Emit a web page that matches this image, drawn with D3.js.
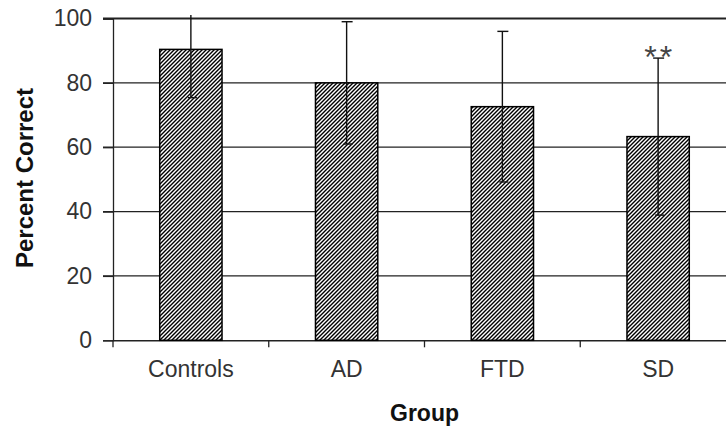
<!DOCTYPE html>
<html>
<head>
<meta charset="utf-8">
<script src="https://cdn.jsdelivr.net/npm/d3@7"></script>
<style>
  body { margin: 0; background: #fff; }
  svg { display: block; font-family: "Liberation Sans", Arial, sans-serif; }
</style>
</head>
<body>
<svg id="chart" width="726" height="434"></svg>
<script>
// values
const groups = ["Controls", "AD", "FTD", "SD"];
const means = [90.4, 80, 72.6, 63.3];
const sds = [15, 19, 23.4, 24.4];
const marks = ["", "", "", "**"];
const yTicks = [0, 20, 40, 60, 80, 100];

const svg = d3.select("#chart");
const plotLeft = 113, plotTop = 18.5, plotBottom = 340.3, plotRight = 736;

const x = d3.scaleBand().domain(groups).range([plotLeft, plotRight]).padding(0);
const y = d3.scaleLinear().domain([0, 100]).range([plotBottom, plotTop]);
const barW = x.bandwidth() * 0.4;

// hatch fill
const defs = svg.append("defs");
const pat = defs.append("pattern")
    .attr("id", "hatch")
    .attr("patternUnits", "userSpaceOnUse")
    .attr("width", 4).attr("height", 4);
pat.append("rect").attr("width", 4).attr("height", 4).attr("fill", "#fff");
pat.append("path")
    .attr("d", "M-1,1 l2,-2 M0,4 l4,-4 M3,5 l2,-2")
    .attr("stroke", "#000").attr("stroke-width", 1.4);

defs.append("clipPath").attr("id", "plotClip")
  .append("rect").attr("x", 0).attr("y", 15).attr("width", 726).attr("height", 400);

// gridlines
svg.append("g").selectAll("line")
  .data(yTicks.filter(d => d > 0))
  .join("line")
    .attr("x1", plotLeft - 10).attr("x2", 726)
    .attr("y1", d => y(d)).attr("y2", d => y(d))
    .attr("stroke", "#222")
    .attr("stroke-width", d => d === 100 ? 2 : 1.3);

// y axis
const yAxis = svg.append("g")
    .attr("transform", `translate(${plotLeft},0)`)
    .call(d3.axisLeft(y).tickValues(yTicks).tickSize(10).tickPadding(11));
yAxis.select(".domain").attr("stroke", "#222").attr("stroke-width", 1.3);
yAxis.selectAll(".tick line").attr("stroke", "#222").attr("stroke-width", 1.3);
yAxis.selectAll("text")
    .attr("font-size", 23).attr("fill", "#333")
    .attr("font-family", "Liberation Sans, Arial, sans-serif");

// x axis
const xAxis = svg.append("g")
    .attr("transform", `translate(0,${plotBottom})`)
    .call(d3.axisBottom(x).tickSize(0).tickPadding(20));
xAxis.select(".domain").attr("stroke", "#222").attr("stroke-width", 1.5);
xAxis.selectAll("text")
    .attr("font-size", 23).attr("fill", "#333")
    .attr("font-family", "Liberation Sans, Arial, sans-serif");

// category boundary ticks
svg.append("g").selectAll("line")
  .data(groups)
  .join("line")
    .attr("x1", d => x(d)).attr("x2", d => x(d))
    .attr("y1", plotBottom).attr("y2", plotBottom + 7)
    .attr("stroke", "#222").attr("stroke-width", 1.3);

// bars
svg.append("g").selectAll("rect")
  .data(groups)
  .join("rect")
    .attr("x", d => x(d) + (x.bandwidth() - barW) / 2)
    .attr("y", (d, i) => y(means[i]))
    .attr("width", barW)
    .attr("height", (d, i) => plotBottom - y(means[i]))
    .attr("fill", "url(#hatch)")
    .attr("stroke", "#000").attr("stroke-width", 1.5);

// error bars
const cx = d => x(d) + x.bandwidth() / 2;
const err = svg.append("g").attr("clip-path", "url(#plotClip)")
    .attr("stroke", "#111").attr("stroke-width", 1.4);
err.selectAll("line.v")
  .data(groups)
  .join("line").attr("class", "v")
    .attr("x1", cx).attr("x2", cx)
    .attr("y1", (d, i) => y(means[i] + sds[i]))
    .attr("y2", (d, i) => y(means[i] - sds[i]));
err.selectAll("line.hi")
  .data(groups)
  .join("line").attr("class", "hi")
    .attr("x1", d => cx(d) - 5).attr("x2", d => cx(d) + 6)
    .attr("y1", (d, i) => y(means[i] + sds[i]))
    .attr("y2", (d, i) => y(means[i] + sds[i]));
err.selectAll("line.lo")
  .data(groups)
  .join("line").attr("class", "lo")
    .attr("x1", d => cx(d) - 3).attr("x2", d => cx(d) + 6)
    .attr("y1", (d, i) => y(means[i] - sds[i]))
    .attr("y2", (d, i) => y(means[i] - sds[i]));

// significance marks
svg.append("g").selectAll("text")
  .data(groups)
  .join("text")
    .attr("x", d => cx(d) + 1.5)
    .attr("y", (d, i) => y(means[i] + sds[i]) + 10)
    .attr("text-anchor", "middle")
    .attr("font-size", 32).attr("letter-spacing", 3).attr("fill", "#444")
    .text((d, i) => marks[i]);

// axis titles
svg.append("text")
    .attr("transform", `translate(33,178) rotate(-90)`)
    .attr("text-anchor", "middle")
    .attr("font-size", 24).attr("font-weight", "bold").attr("fill", "#111")
    .text("Percent Correct");

svg.append("text")
    .attr("x", (plotLeft + plotRight) / 2)
    .attr("y", 421)
    .attr("text-anchor", "middle")
    .attr("font-size", 23).attr("font-weight", "bold").attr("fill", "#111")
    .text("Group");
</script>
</body>
</html>
